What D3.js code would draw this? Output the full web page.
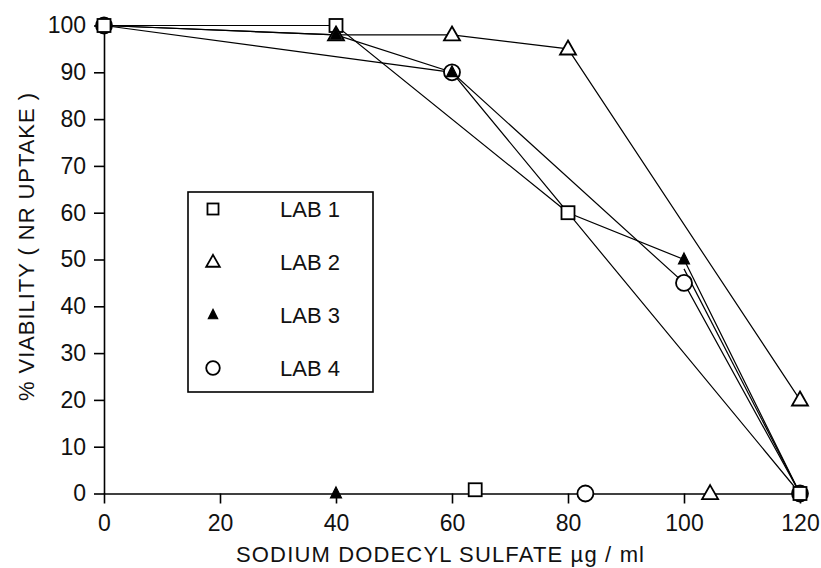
<!DOCTYPE html>
<html>
<head>
<meta charset="utf-8">
<script src="https://cdn.jsdelivr.net/npm/d3@7"></script>
<style>
  body { margin: 0; background: #fff; }
  text { font-family: "Liberation Sans", Arial, sans-serif; fill: #111; }
</style>
</head>
<body>
<div id="chart"></div>
<script>
// data
var labNames = ["LAB 1", "LAB 2", "LAB 3", "LAB 4"];
var lab1X = [0, 40, 80, 120],           lab1Y = [100, 100, 60, 0];
var lab2X = [0, 40, 60, 80, 120],       lab2Y = [100, 98, 98, 95, 20];
var lab3X = [0, 40, 60, 80, 100, 120],  lab3Y = [100, 98, 90, 60, 50, 0];
var lab4X = [0, 60, 100, 120],          lab4Y = [100, 90, 45, 0];
// extra segment running from the 100 cluster down to 120
var extraX = [100, 120],                extraY = [48, 0];
// which points carry a marker (index into the arrays above)
var lab1Marked = [0, 1, 2, 3];
var lab2Marked = [1, 2, 3, 4];
var lab3Marked = [1, 2, 4];
var lab4Marked = [0, 1, 2, 3];
// stray markers lying on the x axis
var strayX = [64, 104.5, 40, 83],       strayY = [0.8, 0, 0, 0];
var xTicks = [0, 20, 40, 60, 80, 100, 120];
var yTicks = [0, 10, 20, 30, 40, 50, 60, 70, 80, 90, 100];

var W = 821, H = 568;
var svg = d3.select("#chart").append("svg")
    .attr("width", W)
    .attr("height", H);
svg.append("rect").attr("width", W).attr("height", H).attr("fill", "#fff");

var x = d3.scaleLinear().domain([0, 120]).range([104, 800]);
var y = d3.scaleLinear().domain([0, 100]).range([493.5, 25.5]);

/*axes*/
var gx = svg.append("g")
    .attr("transform", "translate(0," + y(0) + ")")
    .call(d3.axisBottom(x).tickValues(xTicks).tickSize(10).tickSizeOuter(0).tickPadding(11));
var gy = svg.append("g")
    .attr("transform", "translate(" + x(0) + ",0)")
    .call(d3.axisLeft(y).tickValues(yTicks).tickSize(10).tickSizeOuter(0).tickPadding(8));
[gx, gy].forEach(function(g){
    g.select(".domain").attr("stroke", "#000").attr("stroke-width", 1.6);
    g.selectAll(".tick line").attr("stroke", "#000").attr("stroke-width", 1.6);
    g.selectAll(".tick text").style("font-size", "23px").attr("fill", "#111");
});

svg.append("text")
    .attr("x", 440).attr("y", 562)
    .attr("text-anchor", "middle")
    .attr("textLength", 408)
    .style("font-size", "22px")
    .text("SODIUM DODECYL SULFATE \u00b5g / ml");
svg.append("text")
    .attr("transform", "translate(34,247) rotate(-90)")
    .attr("text-anchor", "middle")
    .attr("textLength", 308)
    .style("font-size", "22px")
    .text("% VIABILITY ( NR UPTAKE )");

/*lines*/
var line = d3.line().x(function(d){ return x(d[0]); }).y(function(d){ return y(d[1]); });
function pts(xs, ys){ return xs.map(function(v, i){ return [v, ys[i]]; }); }

var series = [
    {name: labNames[0], pts: pts(lab1X, lab1Y), marked: lab1Marked, shape: "square"},
    {name: labNames[1], pts: pts(lab2X, lab2Y), marked: lab2Marked, shape: "triangle"},
    {name: labNames[2], pts: pts(lab3X, lab3Y), marked: lab3Marked, shape: "filled"},
    {name: labNames[3], pts: pts(lab4X, lab4Y), marked: lab4Marked, shape: "circle"}
];

svg.selectAll("path.lab")
    .data(series.map(function(s){ return s.pts; }).concat([pts(extraX, extraY)]))
    .enter().append("path")
    .attr("class", "lab")
    .attr("d", line)
    .attr("fill", "none")
    .attr("stroke", "#000")
    .attr("stroke-width", 1.2);

// marker drawing
function marker(g, shape, cx, cy, big){
    var k = big ? 1 : 0.85;
    if (shape === "square") {
        var s = 13 * k;
        g.append("rect").attr("x", cx - s/2).attr("y", cy - s/2).attr("width", s).attr("height", s)
            .attr("fill", "#fff").attr("stroke", "#000").attr("stroke-width", 1.8);
    } else if (shape === "circle") {
        g.append("circle").attr("cx", cx).attr("cy", cy).attr("r", 8 * k)
            .attr("fill", "#fff").attr("stroke", "#000").attr("stroke-width", 1.8);
    } else if (shape === "triangle") {
        var w = 16 * k, h = 14 * k;
        g.append("path")
            .attr("d", "M" + cx + "," + (cy - h*0.6) + "L" + (cx + w/2) + "," + (cy + h*0.4) + "L" + (cx - w/2) + "," + (cy + h*0.4) + "Z")
            .attr("fill", "#fff").attr("stroke", "#000").attr("stroke-width", 1.8);
    } else {
        var w2 = 11 * k, h2 = 11 * k;
        g.append("path")
            .attr("d", "M" + cx + "," + (cy - h2*0.6) + "L" + (cx + w2/2) + "," + (cy + h2*0.4) + "L" + (cx - w2/2) + "," + (cy + h2*0.4) + "Z")
            .attr("fill", "#000").attr("stroke", "#000").attr("stroke-width", 1.2);
    }
}

// circles go underneath so the overlapping marks show through
var gm = svg.append("g");
[3, 0, 1, 2].forEach(function(si){
    var s = series[si];
    s.marked.forEach(function(i){
        marker(gm, s.shape, x(s.pts[i][0]), y(s.pts[i][1]), true);
    });
    marker(gm, s.shape, x(strayX[si]), y(strayY[si]), true);
});

/*legend*/
var lg = svg.append("g");
lg.append("rect")
    .attr("x", 188).attr("y", 192).attr("width", 185).attr("height", 200)
    .attr("fill", "#fff").attr("stroke", "#000").attr("stroke-width", 1.6);
series.forEach(function(s, i){
    var cy = 209 + i * 53;
    marker(lg, s.shape, 213, cy, false);
    lg.append("text")
        .attr("x", 280).attr("y", cy)
        .attr("dy", "0.36em")
        .style("font-size", "22px")
        .text(s.name);
});
</script>
</body>
</html>
